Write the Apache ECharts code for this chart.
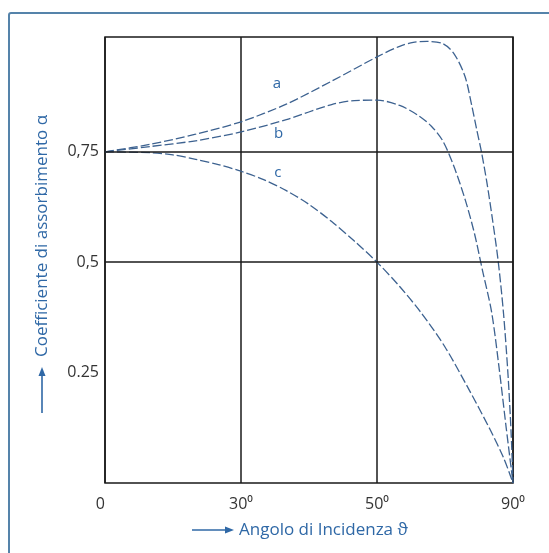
<!DOCTYPE html>
<html>
<head>
<meta charset="utf-8">
<script src="https://cdn.jsdelivr.net/npm/echarts@6/dist/echarts.min.js"></script>
<style>
  html, body { margin: 0; padding: 0; background: #fff; }
  #main { width: 549px; height: 553px; }
</style>
</head>
<body>
<div id="main"></div>
<script>
// angle (deg) / absorption coefficient pairs
var curveA = [
  [0, 0.75], [10, 0.767], [20, 0.790], [30, 0.818], [40, 0.858],
  [50, 0.910], [60, 0.965], [65, 0.989], [68, 0.998], [71, 1.0],
  [74.5, 0.995], [77, 0.972], [79.4, 0.921], [80.9, 0.855], [82, 0.800],
  [83, 0.752], [84.2, 0.683], [85.4, 0.602], [86.7, 0.505], [87.9, 0.385],
  [88.9, 0.245], [89.6, 0.11], [90, 0]
];
var curveB = [
  [0, 0.75], [10, 0.762], [20, 0.775], [30, 0.795], [40, 0.823],
  [50, 0.857], [55, 0.866], [60, 0.867], [65, 0.855], [69, 0.833],
  [72, 0.808], [74.5, 0.775], [77, 0.716], [79.5, 0.640], [81.5, 0.565],
  [83.3, 0.480], [85.3, 0.386], [87, 0.255], [88.5, 0.125], [90, 0]
];
var curveC = [
  [0, 0.75], [10, 0.748], [15, 0.743], [20, 0.733], [25, 0.721],
  [30, 0.706], [35, 0.687], [40, 0.662], [45, 0.631], [50, 0.592],
  [55, 0.548], [60, 0.500], [65, 0.445], [70, 0.382], [75, 0.308],
  [80, 0.217], [85, 0.120], [88, 0.055], [90, 0]
];
var curveNames = ['a', 'b', 'c'];
var curveLabelPos = [[37.9, 0.904], [38.3, 0.792], [38.1, 0.702]];

var xTicks = [0, 30, 60, 90];
var xTickText = ['0', '30\u2070', '50\u2070', '90\u2070'];
var yTicks = [0.25, 0.5, 0.75];
var yTickText = ['0.25', '0,5', '0,75'];
var yGridLines = [0.5, 0.75];

var blue = '#2f68a6';
var curveColor = '#3d6290';

function init() {
  var chart = echarts.init(document.getElementById('main'));

  function makeSeries(name, data, idx) {
    var s = {
      name: name,
      type: 'line',
      data: data,
      smooth: 0.3,
      showSymbol: false,
      silent: true,
      lineStyle: { color: curveColor, width: 1.3, type: [9, 3] },
      markPoint: {
        symbol: 'circle',
        symbolSize: 0,
        label: {
          show: true,
          formatter: name,
          color: blue,
          fontSize: 15,
          fontFamily: 'Open Sans'
        },
        data: [{ coord: curveLabelPos[idx] }]
      }
    };
    if (idx === 0) {
      s.markLine = {
        silent: true,
        symbol: 'none',
        label: { show: false },
        lineStyle: { color: '#1a1a1a', width: 1.5, type: 'solid' },
        data: yGridLines.map(function (v) { return { yAxis: v }; })
      };
    }
    return s;
  }

  var option = {
    animation: false,
    grid: {
      left: 105, right: 36, top: 37, bottom: 70,
      show: true, borderColor: '#1a1a1a', borderWidth: 1.5
    },
    xAxis: {
      type: 'value',
      min: 0, max: 90, interval: 30,
      axisLine: { show: false },
      axisTick: { show: false },
      splitLine: { show: true, lineStyle: { color: '#1a1a1a', width: 1.5 } },
      axisLabel: {
        color: '#333', fontSize: 16, fontFamily: 'Open Sans', margin: 13,
        alignMinLabel: 'right',
        formatter: function (v) {
          var i = xTicks.indexOf(v);
          return i >= 0 ? xTickText[i] : '';
        }
      }
    },
    yAxis: {
      type: 'value',
      min: 0, max: 1.01, interval: 0.25,
      axisLine: { show: false },
      axisTick: { show: false },
      splitLine: { show: false },
      axisLabel: {
        color: '#333', fontSize: 16, fontFamily: 'Open Sans', margin: 6,
        formatter: function (v) {
          var i = yTicks.indexOf(Math.round(v * 100) / 100);
          return i >= 0 ? yTickText[i] : '';
        }
      }
    },
    series: [
      makeSeries(curveNames[0], curveA, 0),
      makeSeries(curveNames[1], curveB, 1),
      makeSeries(curveNames[2], curveC, 2)
    ],
    graphic: [
      {
        type: 'rect',
        shape: { x: 9, y: 13, width: 600, height: 600, r: 2 },
        style: { fill: null, stroke: '#5583aa', lineWidth: 2 },
        silent: true
      },
      {
        type: 'text',
        x: 42, y: 236,
        rotation: Math.PI / 2,
        style: {
          text: 'Coefficiente di assorbimento \u03b1',
          fill: blue, fontSize: 17, fontFamily: 'Open Sans',
          align: 'center', verticalAlign: 'middle'
        }
      },
      {
        type: 'line',
        shape: { x1: 42, y1: 413, x2: 42, y2: 374 },
        style: { stroke: blue, lineWidth: 1.6 }
      },
      {
        type: 'polygon',
        shape: { points: [[42, 367], [38.5, 376], [45.5, 376]] },
        style: { fill: blue }
      },
      {
        type: 'text',
        x: 239, y: 530,
        style: {
          text: 'Angolo di Incidenza \u03d1',
          fill: blue, fontSize: 17, fontFamily: 'Open Sans',
          align: 'left', verticalAlign: 'middle'
        }
      },
      {
        type: 'line',
        shape: { x1: 192, y1: 530, x2: 227, y2: 530 },
        style: { stroke: blue, lineWidth: 1.6 }
      },
      {
        type: 'polygon',
        shape: { points: [[234, 530], [225, 526.5], [225, 533.5]] },
        style: { fill: blue }
      }
    ]
  };
  chart.setOption(option);
}
init();
</script>
</body>
</html>
